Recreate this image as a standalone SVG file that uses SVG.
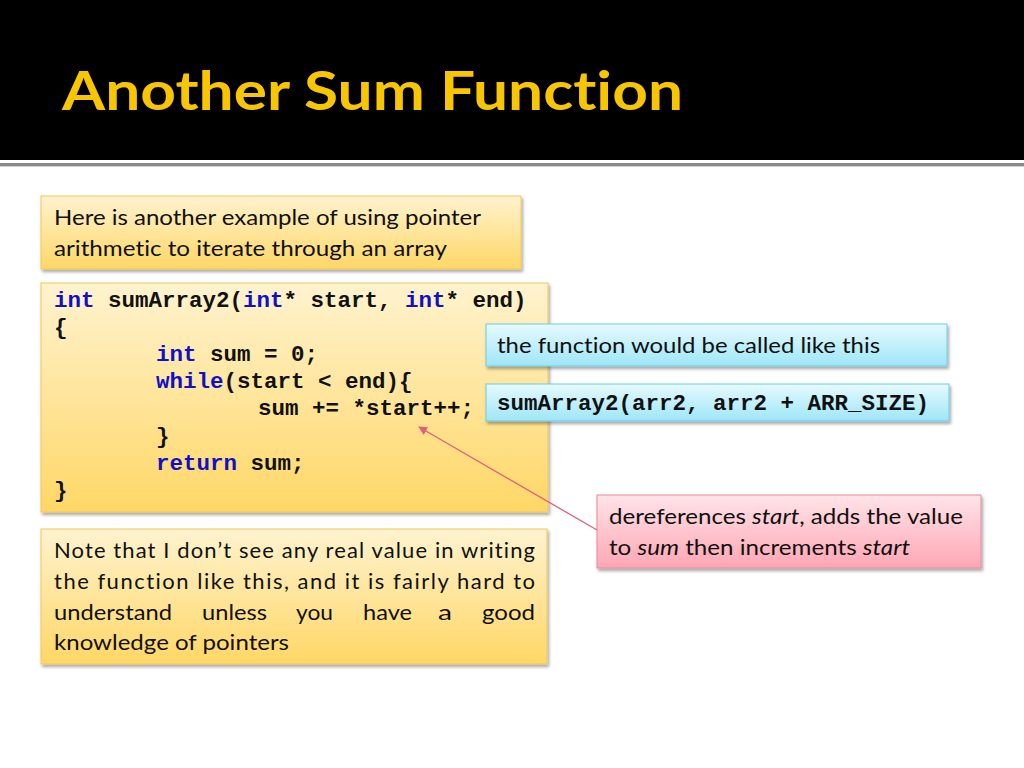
<svg xmlns="http://www.w3.org/2000/svg" width="1024" height="768" viewBox="0 0 1024 768">
<defs>
<linearGradient id="gy" x1="0" y1="0" x2="0" y2="1"><stop offset="0" stop-color="#FFF3CF"/><stop offset="1" stop-color="#FFD766"/></linearGradient>
<linearGradient id="gb" x1="0" y1="0" x2="0" y2="1"><stop offset="0" stop-color="#E6FAFF"/><stop offset="1" stop-color="#9EE6F8"/></linearGradient>
<linearGradient id="gp" x1="0" y1="0" x2="0" y2="1"><stop offset="0" stop-color="#FFE4E8"/><stop offset="1" stop-color="#FFA6B4"/></linearGradient>
<filter id="sh" x="-5%" y="-5%" width="112%" height="120%"><feDropShadow dx="1.5" dy="2.5" stdDeviation="1.8" flood-color="#000" flood-opacity="0.35"/></filter>
<marker id="ah" viewBox="0 0 10 10" refX="9" refY="5" markerWidth="9" markerHeight="9" orient="auto-start-reverse" markerUnits="userSpaceOnUse"><path d="M0,0 L10,5 L0,10 z" fill="#E0607A"/></marker>
</defs>
<style>
text{font-variant-ligatures:none;font-feature-settings:"liga" 0,"clig" 0}
.body{font-family:Lato,"Liberation Sans",sans-serif;font-size:22px;fill:#111}
.code{font-family:"Liberation Mono","Courier New",monospace;font-weight:bold;font-size:22.5px;fill:#111}
.kw{fill:#1010C8}
.y{fill:url(#gy);stroke:#F2C65A;stroke-width:1;filter:url(#sh)}
.b{fill:url(#gb);stroke:#6CCBE6;stroke-width:1;filter:url(#sh)}
.p{fill:url(#gp);stroke:#E88A9A;stroke-width:1;filter:url(#sh)}
</style>
<rect x="0" y="0" width="1024" height="768" fill="#FFFFFF"/>
<g id="header">
<rect x="0" y="0" width="1024" height="160" fill="#000"/>
<rect x="0" y="163" width="1024" height="3" fill="#8A8A8A"/>
<rect x="0" y="166" width="1024" height="1" fill="#CFCFCF"/>
<text x="62" y="110" font-family="Lato,'Liberation Sans',sans-serif" font-weight="bold" font-size="54" fill="#F7C600" textLength="621" lengthAdjust="spacingAndGlyphs">Another Sum Function</text>
</g>
<g id="intro">
<rect class="y" x="41" y="196" width="480" height="73"/>
<text class="body" x="54" y="225" textLength="427" lengthAdjust="spacingAndGlyphs">Here is another example of using pointer</text>
<text class="body" x="54" y="256" textLength="393" lengthAdjust="spacingAndGlyphs">arithmetic to iterate through an array</text>
</g>
<g id="code">
<rect class="y" x="41" y="283" width="507" height="229"/>
<text class="code" xml:space="preserve" x="54" y="307"><tspan class="kw">int</tspan> sumArray2(<tspan class="kw">int</tspan>* start, <tspan class="kw">int</tspan>* end)</text>
<text class="code" x="54" y="334">{</text>
<text class="code" xml:space="preserve" x="156" y="361"><tspan class="kw">int</tspan> sum = 0;</text>
<text class="code" xml:space="preserve" x="156" y="388"><tspan class="kw">while</tspan>(start &lt; end){</text>
<text class="code" xml:space="preserve" x="258" y="415">sum += *start++;</text>
<text class="code" x="156" y="443">}</text>
<text class="code" xml:space="preserve" x="156" y="470"><tspan class="kw">return</tspan> sum;</text>
<text class="code" x="54" y="497">}</text>
</g>
<g id="note">
<rect class="y" x="41" y="529" width="506" height="135"/>
<text class="body" x="54" y="558" textLength="481" lengthAdjust="spacing">Note that I don’t see any real value in writing</text>
<text class="body" x="54" y="589" textLength="481" lengthAdjust="spacing">the function like this, and it is fairly hard to</text>
<text class="body" x="54" y="620" textLength="118" lengthAdjust="spacingAndGlyphs">understand</text>
<text class="body" x="202" y="620" textLength="65" lengthAdjust="spacingAndGlyphs">unless</text>
<text class="body" x="296" y="620" textLength="37" lengthAdjust="spacingAndGlyphs">you</text>
<text class="body" x="363" y="620" textLength="49" lengthAdjust="spacingAndGlyphs">have</text>
<text class="body" x="438" y="620" textLength="14" lengthAdjust="spacingAndGlyphs">a</text>
<text class="body" x="482" y="620" textLength="53" lengthAdjust="spacingAndGlyphs">good</text>
<text class="body" x="54" y="650" textLength="235" lengthAdjust="spacingAndGlyphs">knowledge of pointers</text>
</g>
<g id="called">
<rect class="b" x="486" y="324" width="461" height="42"/>
<text class="body" x="497" y="353" textLength="383" lengthAdjust="spacingAndGlyphs">the function would be called like this</text>
</g>
<g id="call">
<rect class="b" x="486" y="384" width="463" height="37"/>
<text class="code" x="497" y="410">sumArray2(arr2, arr2 + ARR_SIZE)</text>
</g>
<g id="explain">
<rect class="p" x="597" y="495" width="384" height="73"/>
<text class="body" x="609" y="524" textLength="354" lengthAdjust="spacingAndGlyphs">dereferences <tspan font-style="italic">start</tspan>, adds the value</text>
<text class="body" x="609" y="555" textLength="301" lengthAdjust="spacingAndGlyphs">to <tspan font-style="italic">sum</tspan> then increments <tspan font-style="italic">start</tspan></text>
</g>
<g id="connectors">
<line x1="597" y1="530" x2="419" y2="427" stroke="#E0607A" stroke-width="1.3" marker-end="url(#ah)"/>
</g>
</svg>
